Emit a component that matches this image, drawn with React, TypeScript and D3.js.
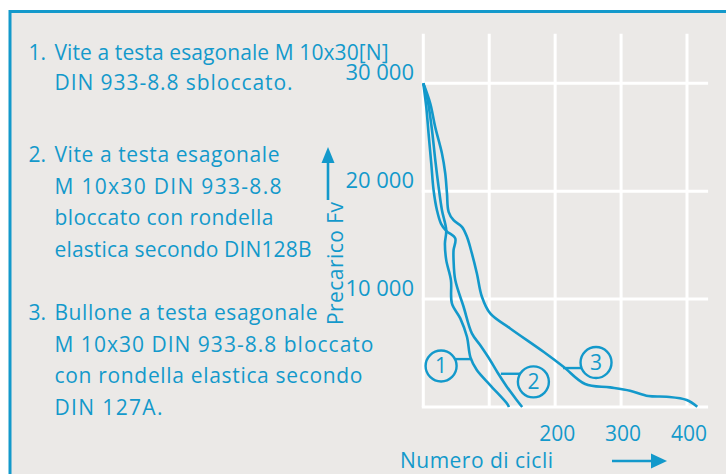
import * as d3 from "d3";
import React from "react";

// colours
const BLUE = "#1399cb";
const BG = "#ebe9e7";
const FONT = "'Open Sans', Lato, sans-serif";
const FS = 21;

// grid / ticks
const xTicks = [0, 100, 200, 300, 400];
const xLabels = [200, 300, 400];
const yTicks = [0, 10000, 20000, 30000];
const yLabels = [10000, 20000, 30000];
const xMax = 432;
const yMax = 34600;

// curves: [cycles, preload N]
const curve1: [number, number][] = [
  [0, 30000], [6.6, 28430], [13.2, 25650], [18.2, 22870], [23.2, 20400],
  [28.3, 18240], [34.8, 16390], [32.8, 15150], [34.8, 13610], [41.9, 11760],
  [43.4, 9600], [56.1, 8210], [66.2, 6510], [71.5, 4600], [80.9, 3450],
  [101, 2060], [126.4, 370], [130, 0],
];
const curve2: [number, number][] = [
  [0, 30000], [4.5, 27810], [8, 25340], [12.1, 22560], [15.6, 20090],
  [20.7, 18240], [26.8, 17000], [34.8, 16330], [48.5, 15620], [45.9, 14540],
  [45.9, 13610], [48.5, 11760], [61.1, 9290], [73.7, 6820], [85.9, 5760],
  [101, 4380], [112.6, 3200], [126.4, 1910], [141, 700], [150, 0],
];
const curve3: [number, number][] = [
  [0, 30000], [10.6, 28120], [18, 25960], [28.3, 23490], [33.3, 21640],
  [35.9, 19790], [38.4, 18090], [45.9, 17310], [58.6, 16700], [66.2, 15770],
  [73.7, 14230], [81.3, 12380], [88.9, 10220], [101.5, 8670], [131.8, 7280],
  [182.3, 5120], [212.6, 3730], [245.5, 2130], [283.3, 1820], [313.6, 1510],
  [341.4, 1020], [369.2, 950], [399.5, 650], [415.6, 30],
];
const curves = [curve1, curve2, curve3];

// circled labels: anchor on curve and circle centre, both in data units
const markerNames = ["1", "2", "3"];
const markerAnchors: [number, number][] = [[72.3, 4440], [117.7, 3080], [212, 3610]];
const markerCentres: [number, number][] = [[27, 3800], [167, 2330], [262, 4120]];

// legend text
const legendNums = ["1.", "2.", "3."];
const legendLines = [
  ["Vite a testa esagonale M 10x30[N]", "DIN 933-8.8 sbloccato."],
  ["Vite a testa esagonale", "M 10x30 DIN 933-8.8", "bloccato con rondella", "elastica secondo DIN128B"],
  ["Bullone a testa esagonale", "M 10x30 DIN 933-8.8 bloccato", "con rondella elastica secondo", "DIN 127A."],
];
const legendWidths = [
  [334, 238],
  [225, 227, 219, 257],
  [263, 319, 308, 108],
];
const legendTops = [60, 162, 320];

const yTitle = "Precarico Fv";
const xTitle = "Numero di cicli";

const App = () => {
  const width = 726;
  const height = 474;

  const x = d3.scaleLinear().domain([0, 400]).range([423.3, 687]);
  const y = d3.scaleLinear().domain([0, 30000]).range([407, 83.3]);

  const line = d3
    .line<[number, number]>()
    .x((d) => x(d[0]))
    .y((d) => y(d[1]))
    .curve(d3.curveCatmullRom.alpha(0.5));

  const fmt = (v: number) => d3.format(",")(v).replace(",", " ");

  return (
    <svg width={width} height={height} style={{ position: "absolute", left: 0, top: 0 }} fontFamily={FONT} fontWeight={500}>
      <rect x={0} y={0} width={width} height={height} fill="#fff" />
      <rect x={10} y={11.5} width={width + 20} height={height + 20} fill={BG} stroke={BLUE} strokeWidth={3} />

      {/* grid */}
      {xTicks.map((t) => (
        <line key={"gx" + t} x1={x(t)} x2={x(t)} y1={y(yMax)} y2={y(0)} stroke="#fff" strokeWidth={3} />
      ))}
      {yTicks.map((t) => (
        <line key={"gy" + t} x1={x(0) - 1.5} x2={x(xMax)} y1={y(t)} y2={y(t)} stroke="#fff" strokeWidth={3} />
      ))}

      {/* tick labels */}
      {yLabels.map((t) => (
        <text key={"yl" + t} x={414} y={y(t) - 3} textAnchor="end" fontSize={22} fill={BLUE}>
          {fmt(t)}
        </text>
      ))}
      {xLabels.map((t) => (
        <text key={"xl" + t} x={x(t) + 2} y={441} textAnchor="middle" fontSize={FS} fill={BLUE}>
          {t}
        </text>
      ))}

      {/* curves */}
      {curves.map((c, i) => (
        <path key={"c" + i} d={line(c) || ""} fill="none" stroke={BLUE} strokeWidth={2.6} strokeLinejoin="round" />
      ))}

      {/* circled labels */}
      {markerNames.map((n, i) => {
        const cx = x(markerCentres[i][0]);
        const cy = y(markerCentres[i][1]);
        const ax = x(markerAnchors[i][0]);
        const ay = y(markerAnchors[i][1]);
        const r = 15.5;
        const dy = ay - cy;
        const dx = Math.sqrt(Math.max(r * r - dy * dy, 0));
        const edge = ax > cx ? cx + dx : cx - dx;
        return (
          <g key={"m" + n}>
            <line x1={ax} x2={edge} y1={ay} y2={ay} stroke={BLUE} strokeWidth={2.4} />
            <circle cx={cx} cy={cy} r={r} fill="none" stroke={BLUE} strokeWidth={2.4} />
            <text x={cx} y={cy + 7.5} textAnchor="middle" fontSize={FS} fill={BLUE}>
              {n}
            </text>
          </g>
        );
      })}

      {/* y title + arrow */}
      <text transform="translate(343,325) rotate(-90)" fontSize={FS} fill={BLUE} textLength={123} lengthAdjust="spacing">
        {yTitle}
      </text>
      <line x1={328} x2={328} y1={200} y2={160} stroke={BLUE} strokeWidth={2.6} />
      <polygon points="328,147 321.5,163 334.5,163" fill={BLUE} />

      {/* x title + arrow */}
      <text x={400} y={468} fontSize={FS} fill={BLUE} textLength={153} lengthAdjust="spacing">
        {xTitle}
      </text>
      <line x1={612} x2={653} y1={461} y2={461} stroke={BLUE} strokeWidth={2.6} />
      <polygon points="667,461 651,453.5 651,468.5" fill={BLUE} />

      {/* legend */}
      {legendLines.map((lines, i) => (
        <g key={"lg" + i}>
          <text x={28.5} y={legendTops[i]} fontSize={FS} fill={BLUE}>
            {legendNums[i]}
          </text>
          {lines.map((s, j) => (
            <text
              key={j}
              x={54.5}
              y={legendTops[i] + j * (i === 0 ? 30 : 31.7)}
              fontSize={FS}
              fill={BLUE}
              textLength={legendWidths[i][j]}
              lengthAdjust="spacing"
            >
              {s}
            </text>
          ))}
        </g>
      ))}
    </svg>
  );
};

export default App;
